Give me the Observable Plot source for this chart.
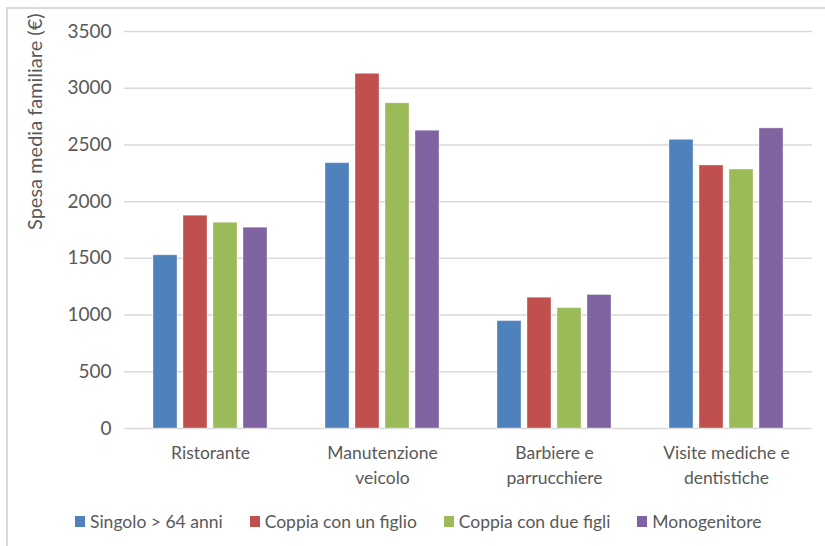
<!DOCTYPE html>
<html>
<head>
<meta charset="utf-8">
<script src="https://cdn.jsdelivr.net/npm/d3@7"></script>
<script src="https://cdn.jsdelivr.net/npm/@observablehq/plot@0.6"></script>
<style>
  body { margin: 0; background: #fff; font-family: Lato, sans-serif; }
  #wrap { position: relative; width: 825px; height: 546px; overflow: hidden; background: #fff; }
  #frame { position: absolute; left: 6px; top: 7px; right: -10px; bottom: -10px;
           border-top: 2px solid #d9d9d9; border-left: 2px solid #d9d9d9; }
  #chart { position: absolute; left: 0; top: 0; }
  #legend { position: absolute; left: 75px; top: 510px; height: 22px; display: flex; align-items: center;
            font-family: Lato, sans-serif; font-size: 17.5px; color: #595959; white-space: nowrap; }
  #legend .item { display: flex; align-items: center; margin-right: 27px; }
  #legend .sw { width: 10px; height: 11px; margin-right: 5px; }
</style>
</head>
<body>
<div id="wrap">
  <div id="frame"></div>
  <div id="chart"></div>
  <div id="legend"></div>
</div>
<script>
const categories = ["Ristorante", "Manutenzione veicolo", "Barbiere e parrucchiere", "Visite mediche e dentistiche"];
const categoryLabels = ["Ristorante", "Manutenzione\nveicolo", "Barbiere e\nparrucchiere", "Visite mediche e\ndentistiche"];
const series = ["Singolo > 64 anni", "Coppia con un figlio", "Coppia con due figli", "Monogenitore"];
const colors = ["#4F81BD", "#C0504D", "#9BBB59", "#8064A2"];
const singolo = [1527, 2339, 947, 2545];
const coppiaUnFiglio = [1876, 3127, 1153, 2319];
const coppiaDueFigli = [1814, 2867, 1062, 2283];
const monogenitore = [1770, 2625, 1177, 2646];
const yTicks = [0, 500, 1000, 1500, 2000, 2500, 3000, 3500];
const yLabel = "Spesa media familiare (€)";

const seriesValues = [singolo, coppiaUnFiglio, coppiaDueFigli, monogenitore];
const rows = [];
categories.forEach((c, i) => {
  series.forEach((s, j) => rows.push({category: c, series: s, value: seriesValues[j][i]}));
});
const labelOf = new Map(categories.map((c, i) => [c, categoryLabels[i]]));

const chart = Plot.plot({
  width: 825,
  height: 500,
  marginLeft: 123,
  marginRight: 13,
  marginTop: 31,
  marginBottom: 72,
  style: {fontFamily: "Lato, sans-serif", background: "transparent", overflow: "visible"},
  fx: {domain: categories, paddingInner: 0, paddingOuter: 0},
  x: {domain: series, paddingInner: 0.2, paddingOuter: 0.878, axis: null},
  y: {domain: [0, 3500]},
  color: {domain: series, range: colors},
  marks: [
    Plot.ruleY(yTicks, {stroke: "#d9d9d9", strokeWidth: 1.5}),
    Plot.barY(rows, {fx: "category", x: "series", y: "value", fill: "series",
                     stroke: "#ffffff", strokeOpacity: 0.35, strokeWidth: 1}),
    Plot.axisY({ticks: yTicks, tickSize: 0, tickPadding: 13, tickFormat: d => String(d),
                fontSize: 19, fill: "#595959", label: null}),
    Plot.axisFx({anchor: "bottom", tickSize: 0, tickPadding: 13, tickFormat: d => labelOf.get(d),
                 lineHeight: 1.42, fontSize: 17.5, fill: "#595959", label: null}),
    Plot.text([yLabel], {facet: "super", frameAnchor: "left", dx: -89, rotate: -90,
                         fontSize: 20, fill: "#595959"})
  ]
});
document.getElementById("chart").appendChild(chart);

const legend = document.getElementById("legend");
series.forEach((s, i) => {
  const item = document.createElement("div");
  item.className = "item";
  const sw = document.createElement("span");
  sw.className = "sw";
  sw.style.background = colors[i];
  const t = document.createElement("span");
  t.textContent = s;
  item.appendChild(sw);
  item.appendChild(t);
  legend.appendChild(item);
});
</script>
</body>
</html>
